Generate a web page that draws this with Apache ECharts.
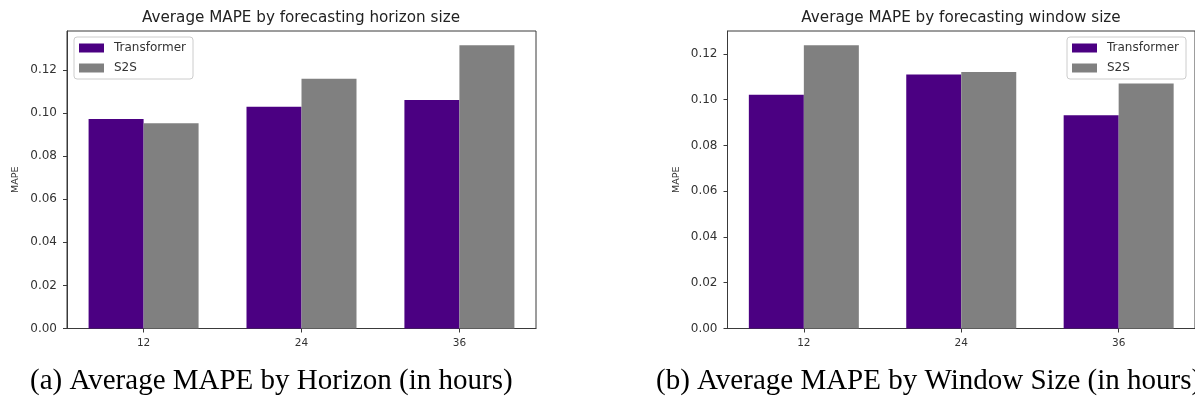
<!DOCTYPE html>
<html lang="en">
<head>
    <meta charset="UTF-8">
    <title>Average MAPE</title>
    <script src="https://cdn.jsdelivr.net/npm/echarts@6.0.0/dist/echarts.min.js"></script>
    <style>
        html, body { margin: 0; padding: 0; background: #fff; }
        #main { width: 1195px; height: 407px; }
    </style>
</head>
<body>
<div id="main"></div>
<script>
    // categories (hours) and MAPE values
    const categories = ['12', '24', '36'];
    const seriesNames = ['Transformer', 'S2S'];
    // (a) by horizon size
    const transformerHorizon = [0.0972, 0.1029, 0.1060];
    const s2sHorizon = [0.0952, 0.1159, 0.1314];
    // (b) by window size
    const transformerWindow = [0.1021, 0.1110, 0.0932];
    const s2sWindow = [0.1238, 0.1121, 0.1071];
    const yTicks = [0, 0.02, 0.04, 0.06, 0.08, 0.10, 0.12];

    const chart = echarts.init(document.getElementById('main'));

    const sans = 'DejaVu Sans';
    const textColor = '#333';
    const spine = '#3a3a3a';
    const colors = ['#4b0082', '#808080'];

    // matplotlib style axes: x from -0.485 to 2.485, bars at each index
    function xAxisCfg(gridIndex) {
        return {
            type: 'value', gridIndex: gridIndex,
            min: -0.485, max: 2.485,
            splitLine: { show: false },
            axisLine: { show: true, onZero: false, lineStyle: { color: spine, width: 1 } },
            axisTick: { show: true, length: 4, customValues: [0, 1, 2], lineStyle: { color: spine } },
            axisLabel: {
                customValues: [0, 1, 2], margin: 9,
                color: textColor, fontFamily: sans, fontSize: 10.5,
                formatter: v => categories[Math.round(v)]
            }
        };
    }

    function yAxisCfg(gridIndex, max) {
        return {
            type: 'value', gridIndex: gridIndex,
            min: 0, max: max,
            name: 'MAPE', nameLocation: 'middle', nameGap: 46,
            nameTextStyle: { color: textColor, fontFamily: sans, fontSize: 9.5 },
            splitLine: { show: false },
            axisLine: { show: true, onZero: false, lineStyle: { color: spine, width: 1 } },
            axisTick: { show: true, length: 4, customValues: yTicks, lineStyle: { color: spine } },
            axisLabel: {
                customValues: yTicks, margin: 10,
                color: textColor, fontFamily: sans, fontSize: 12,
                formatter: v => v.toFixed(2)
            }
        };
    }

    function barSeries(name, values, idx) {
        return {
            name: name, type: 'bar',
            xAxisIndex: idx, yAxisIndex: idx,
            barWidth: 55, barGap: '0%',
            itemStyle: { color: colors[seriesNames.indexOf(name)] },
            data: values.map((v, i) => [i, v])
        };
    }

    function legendCfg(left) {
        return {
            data: seriesNames, left: left, top: 37,
            orient: 'vertical', icon: 'rect',
            itemWidth: 25, itemHeight: 9, itemGap: 6,
            padding: [4, 7, 4, 5],
            borderColor: '#cccccc', borderWidth: 1, borderRadius: 3,
            selectedMode: false,
            textStyle: { color: textColor, fontFamily: sans, fontSize: 12, lineHeight: 14, padding: [0, 0, 0, 5] }
        };
    }

    const titleStyle = { color: '#222', fontFamily: sans, fontSize: 15.2, fontWeight: 'normal', lineHeight: 16 };
    const captionStyle = { color: '#000', fontFamily: 'Liberation Serif', fontSize: 29, fontWeight: 'normal', lineHeight: 30 };

    const option = {
        animation: false,
        backgroundColor: '#fff',
        title: [
            { text: 'Average MAPE by forecasting horizon size', left: 301, top: 10, textAlign: 'center', padding: 0, textStyle: titleStyle },
            { text: 'Average MAPE by forecasting window size', left: 961, top: 10, textAlign: 'center', padding: 0, textStyle: titleStyle },
            { text: '(a) Average MAPE by Horizon (in hours)', left: 30, top: 366, padding: 0, textStyle: captionStyle },
            { text: '(b) Average MAPE by Window Size (in hours)', left: 656, top: 366, padding: 0, textStyle: captionStyle }
        ],
        legend: [legendCfg(74), legendCfg(1067)],
        grid: [
            { left: 67, top: 31, width: 469, height: 297.5, show: true, borderColor: spine, borderWidth: 1, backgroundColor: 'transparent' },
            { left: 727.5, top: 31, width: 469, height: 297.5, show: true, borderColor: spine, borderWidth: 1, backgroundColor: 'transparent' }
        ],
        xAxis: [xAxisCfg(0), xAxisCfg(1)],
        yAxis: [yAxisCfg(0, 0.138), yAxisCfg(1, 0.130)],
        series: [
            barSeries('Transformer', transformerHorizon, 0),
            barSeries('S2S', s2sHorizon, 0),
            barSeries('Transformer', transformerWindow, 1),
            barSeries('S2S', s2sWindow, 1)
        ]
    };

    chart.setOption(option);
</script>
</body>
</html>
